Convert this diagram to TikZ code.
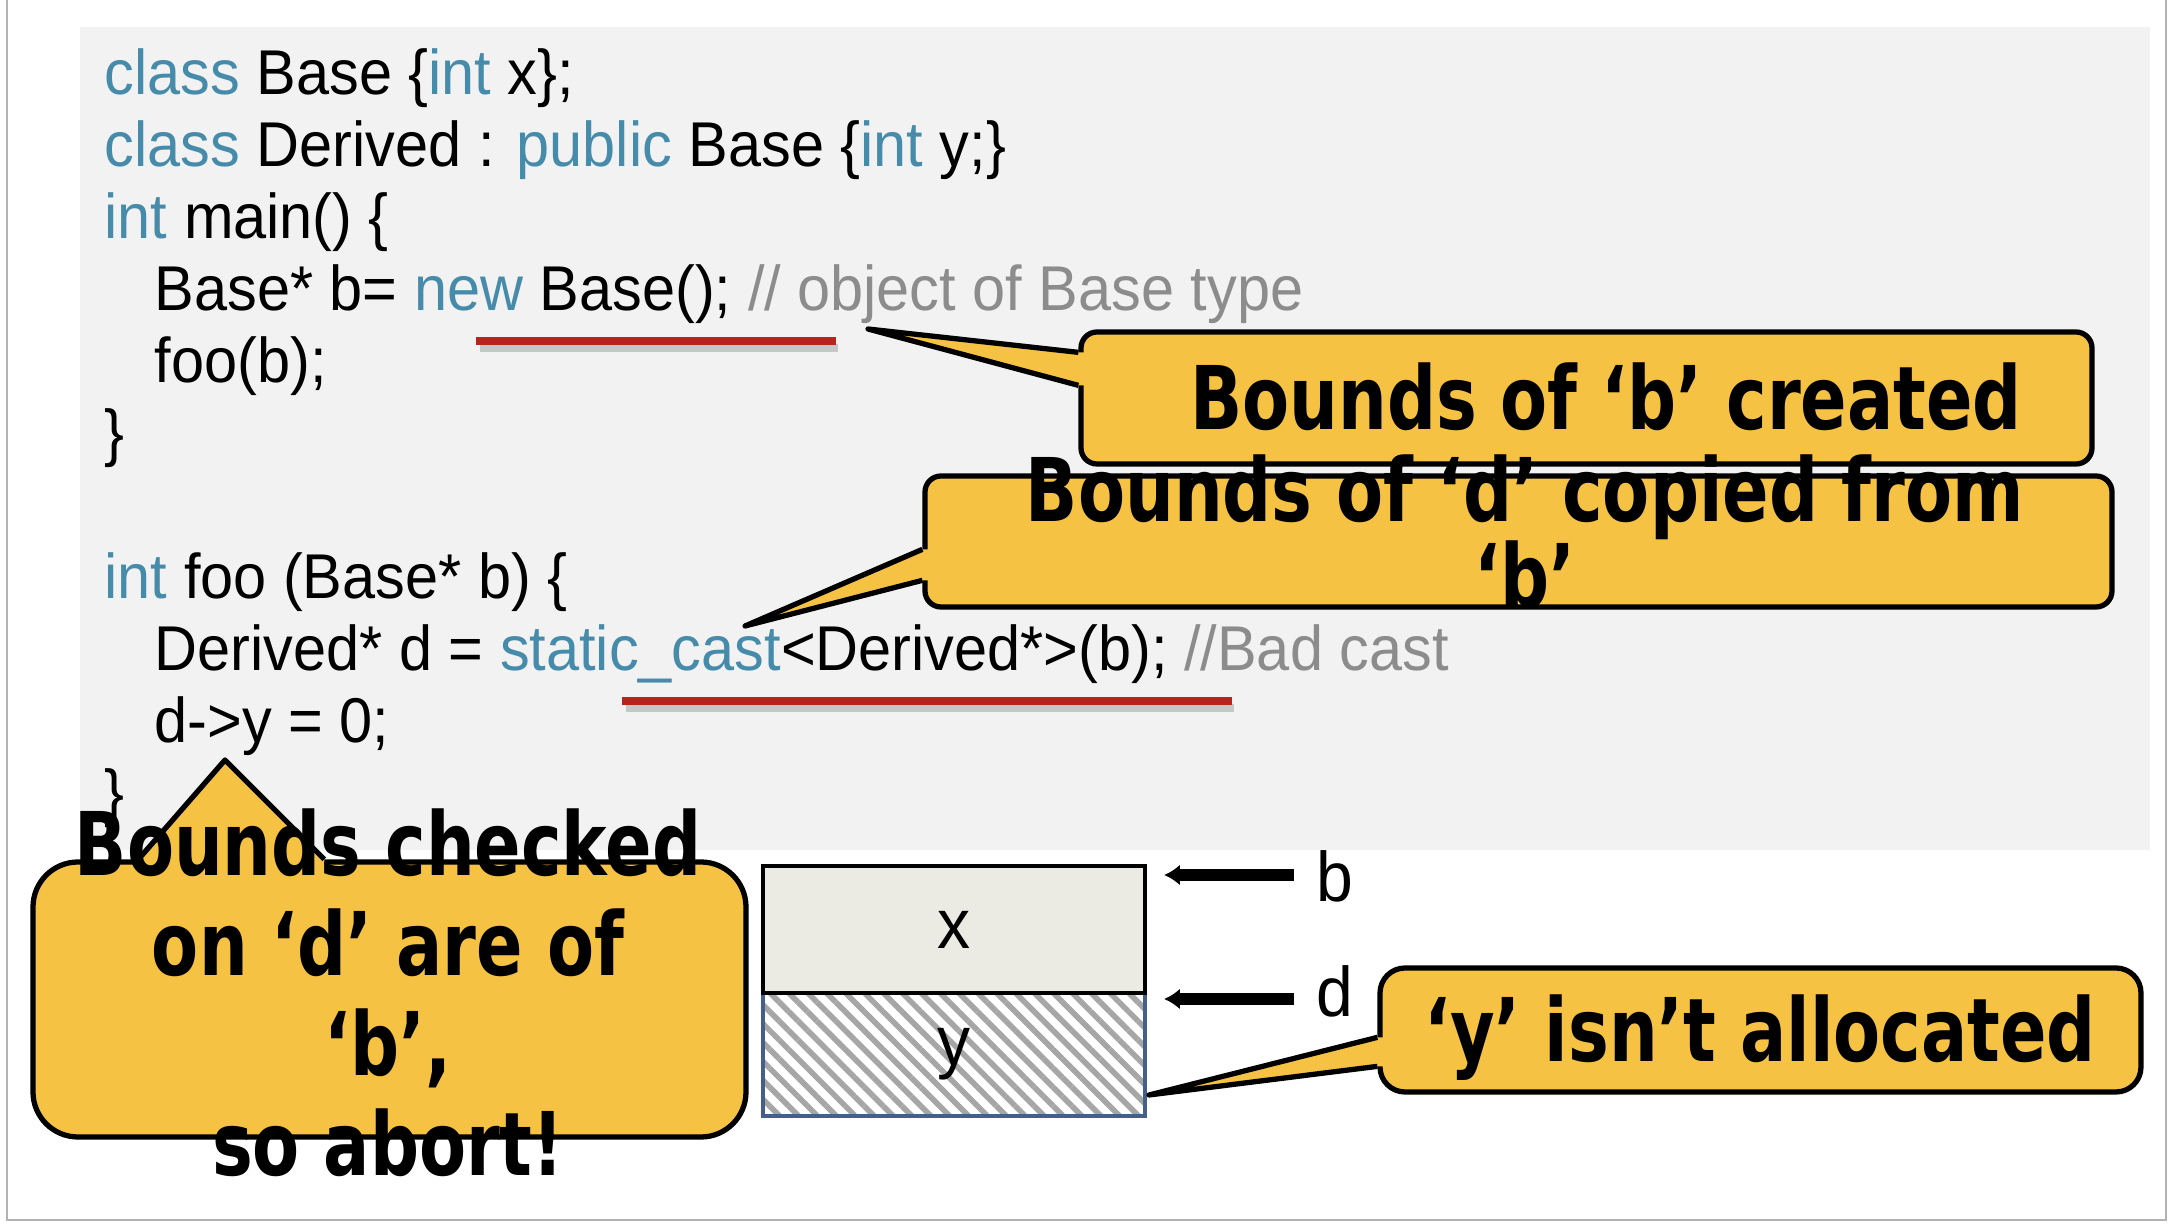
\documentclass[tikz,border=0pt]{standalone}
\usepackage{fontspec}
\setmainfont{Liberation Sans}[FakeStretch=0.94]
\newfontfamily\comicfont{DejaVu Sans}[FakeStretch=0.78]
\usetikzlibrary{positioning, arrows.meta, calc, patterns.meta}

\definecolor{kwblue}{HTML}{468CAA}
\definecolor{cmgray}{HTML}{8C8C8C}
\definecolor{panelgray}{HTML}{F2F2F2}
\definecolor{callyellow}{HTML}{F5C243}
\definecolor{underred}{HTML}{B3261E}
\definecolor{memfill}{HTML}{EBEBE4}
\definecolor{memblue}{HTML}{44608A}

\newcommand{\kw}[1]{\textcolor{kwblue}{#1}}
\newcommand{\cm}[1]{\textcolor{cmgray}{#1}}

\tikzset{
  codeline/.style={anchor=base west, inner sep=0pt, font=\fontsize{18}{20.5}\selectfont},
  callbox/.style={draw, fill=callyellow, line width=1.5pt},
  callfill/.style={fill=callyellow},
  calledge/.style={draw, line width=1.5pt, line join=round},
  calltext/.style={font=\comicfont\bfseries\fontsize{25}{28}\selectfont, align=center, inner sep=0pt},
  memlabel/.style={anchor=base west, inner sep=0pt, font=\fontsize{20}{24}\selectfont},
  memarrow/.style={line width=3.6pt, -{Latex[length=4.5pt,width=6pt]}},
  underbar/.style={draw=underred, line width=2.5pt},
  undershadow/.style={draw=black!22, line width=2.5pt},
}

\begin{document}
\begin{tikzpicture}[x=0.1mm, y=-0.1mm]
  \useasboundingbox (0,0) rectangle (2174,1224);
  % slide frame and code panel
  \draw[black!30, line width=0.5pt] (7,-10) -- (7,1220) -- (2166,1220) -- (2166,-10);
  \fill[panelgray] (80,27) rectangle (2150,850);

  % code
  \node[codeline] (code1) at (104,95) {\kw{class} Base \{\kw{int} x\};};
  \node[codeline] (code2) at (104,167) {\kw{class} Derived : \kw{public} Base \{\kw{int} y;\}};
  \node[codeline] (code3) at (104,239) {\kw{int} main() \{};
  \node[codeline] (code4) at (154,311) {Base* b= \kw{new} Base(); \cm{// object of Base type}};
  \node[codeline] (code5) at (154,383) {foo(b);};
  \node[codeline] (code6) at (104,455) {\}};
  \node[codeline] (code8) at (104,599) {\kw{int} foo (Base* b) \{};
  \node[codeline] (code9) at (154,671) {Derived* d = \kw{static\_cast}<Derived*>(b); \cm{//Bad cast}};
  \node[codeline] (code10) at (154,743) {d->y = 0;};
  \node[codeline] (code11) at (104,815) {\}};

  % underlines
  \draw[undershadow] (480,348) -- (838,348);
  \draw[underbar] (476,341) -- (836,341);
  \draw[undershadow] (626,708) -- (1234,708);
  \draw[underbar] (622,701) -- (1232,701);

  % memory layout
  \node[draw=memblue, line width=1pt, minimum width=38.2mm, minimum height=12.3mm,
    pattern={Lines[angle=-45, distance=3.8pt, line width=1.6pt]}, pattern color=black!35,
    inner sep=0pt, font=\fontsize{20}{24}\selectfont] (memY) at (954,1054.5) {y};
  \node[draw, line width=1.2pt, fill=memfill, minimum width=38.2mm, minimum height=12.7mm,
    inner sep=0pt, font=\fontsize{20}{24}\selectfont] (memX) at (954,929.5) {x};
  \node[memlabel] (labB) at (1316,902) {b};
  \node[memlabel] (labD) at (1316,1017) {d};
  \draw[memarrow] ($(labB.base west)+(-22,-27)$) -- ($(labB.base west -| memX.east)+(17,-27)$);
  \draw[memarrow] ($(labD.base west)+(-22,-18)$) -- ($(labD.base west -| memX.east)+(17,-18)$);

  % callout: b created
  \node[callbox, rounded corners=1.6mm, minimum width=101.1mm, minimum height=13.2mm] (boxB) at (1586.5,398) {};
  \coordinate (tipB) at (868,329);
  \fill[callfill] (tipB) -- ($(boxB.north west)+(0,23)$) -- ++(8,0) -- ++(0,33) -- ($(boxB.north west)+(0,56)$) -- cycle;
  \draw[calledge] ($(boxB.north west)+(0,23)$) -- (tipB) -- ($(boxB.north west)+(0,56)$);
  \node[calltext, anchor=base] (txtB) at (1606,430) {Bounds of ‘b’ created};

  % callout: d copied
  \node[callbox, rounded corners=1.6mm, minimum width=118.7mm, minimum height=13.1mm] (boxD) at (1518.5,541.5) {};
  \coordinate (tipD) at (745,626);
  \fill[callfill] (tipD) -- ($(boxD.north west)+(0,76)$) -- ++(8,0) -- ++(0,31) -- ($(boxD.north west)+(0,107)$) -- cycle;
  \draw[calledge] ($(boxD.north west)+(0,76)$) -- (tipD) -- ($(boxD.north west)+(0,107)$);
  % base anchor of a multi-line node sits on its last line
  \node[calltext, anchor=base, font=\comicfont\bfseries\fontsize{25}{24.5}\selectfont] (txtD) at (1525,608) {Bounds of ‘d’ copied from\\‘b’};

  % callout: abort
  \node[callbox, rounded corners=4.5mm, minimum width=71.3mm, minimum height=27.5mm] (boxAbort) at (389.5,999.5) {};
  \coordinate (tipAbort) at (225,760);
  \fill[callfill] (tipAbort) -- ($(boxAbort.north west)+(108,0)$) -- ++(0,8) -- ++(186,0) -- ($(boxAbort.north west)+(294,0)$) -- cycle;
  \draw[calledge] ($(boxAbort.north west)+(108,0)$) -- (tipAbort) -- ($(boxAbort.north west)+(294,0)$);
  \node[calltext, anchor=base, font=\comicfont\bfseries\fontsize{25}{28.5}\selectfont] (txtAbort) at (388,1176) {Bounds checked\\on ‘d’ are of\\‘b’,\\so abort!};

  % callout: y not allocated
  \node[callbox, rounded corners=2.5mm, minimum width=76.1mm, minimum height=12.4mm] (boxY) at (1760.5,1030) {};
  \coordinate (tipY) at (1149,1095);
  \fill[callfill] (tipY) -- ($(boxY.north west)+(0,72)$) -- ++(8,0) -- ++(0,29) -- ($(boxY.north west)+(0,101)$) -- cycle;
  \draw[calledge] ($(boxY.north west)+(0,72)$) -- (tipY) -- ($(boxY.north west)+(0,101)$);
  \node[calltext, anchor=base] (txtY) at (1760,1062) {‘y’ isn’t allocated};
\end{tikzpicture}
\end{document}
